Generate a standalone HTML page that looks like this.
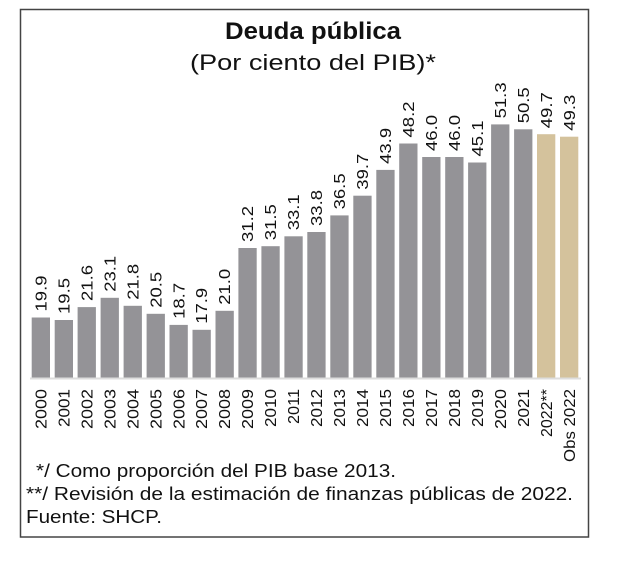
<!DOCTYPE html>
<html><head><meta charset="utf-8"><style>
body{margin:0;background:#fff;width:622px;height:567px;overflow:hidden}
svg{display:block;font-family:"Liberation Sans",sans-serif}
.b{fill:#949397}.t{fill:#d4c29c}
.v{font-size:16px;fill:#111}
.y{font-size:16px;fill:#111;text-anchor:end}
</style></head><body>
<svg width="622" height="567" xmlns="http://www.w3.org/2000/svg">
<rect x="20.5" y="9.5" width="568" height="527.5" fill="#fff" stroke="#444" stroke-width="1.5"/>
<text x="313" y="39" font-size="24" font-weight="bold" text-anchor="middle" fill="#111" textLength="176" lengthAdjust="spacingAndGlyphs">Deuda pública</text>
<text x="313" y="70" font-size="22" text-anchor="middle" fill="#111" textLength="246" lengthAdjust="spacingAndGlyphs">(Por ciento del PIB)*</text>

<rect class="b" x="31.7" y="317.5" width="18.3" height="60"/>
<rect class="b" x="54.7" y="320" width="18.3" height="57.5"/>
<rect class="b" x="77.6" y="307.1" width="18.3" height="70.4"/>
<rect class="b" x="100.6" y="297.8" width="18.3" height="79.7"/>
<rect class="b" x="123.6" y="305.8" width="18.3" height="71.7"/>
<rect class="b" x="146.6" y="313.8" width="18.3" height="63.7"/>
<rect class="b" x="169.5" y="324.9" width="18.3" height="52.6"/>
<rect class="b" x="192.5" y="329.8" width="18.3" height="47.7"/>
<rect class="b" x="215.5" y="310.8" width="18.3" height="66.7"/>
<rect class="b" x="238.4" y="248" width="18.3" height="129.5"/>
<rect class="b" x="261.4" y="246.2" width="18.3" height="131.3"/>
<rect class="b" x="284.4" y="236.3" width="18.3" height="141.2"/>
<rect class="b" x="307.3" y="232" width="18.3" height="145.5"/>
<rect class="b" x="330.3" y="215.4" width="18.3" height="162.1"/>
<rect class="b" x="353.3" y="195.7" width="18.3" height="181.8"/>
<rect class="b" x="376.3" y="169.9" width="18.3" height="207.6"/>
<rect class="b" x="399.2" y="143.5" width="18.3" height="234"/>
<rect class="b" x="422.2" y="157" width="18.3" height="220.5"/>
<rect class="b" x="445.2" y="157" width="18.3" height="220.5"/>
<rect class="b" x="468.1" y="162.5" width="18.3" height="215"/>
<rect class="b" x="491.1" y="124.4" width="18.3" height="253.1"/>
<rect class="b" x="514.1" y="129.3" width="18.3" height="248.2"/>
<rect class="t" x="537.0" y="134.2" width="18.3" height="243.3"/>
<rect class="t" x="560.0" y="136.7" width="18.3" height="240.8"/>
<line x1="30" y1="378.5" x2="581" y2="378.5" stroke="#ddd" stroke-width="2"/>

<g class="v">
<text transform="translate(46.5,311.5) rotate(-90)" textLength="36" lengthAdjust="spacingAndGlyphs">19.9</text>
<text transform="translate(69.4,314) rotate(-90)" textLength="36" lengthAdjust="spacingAndGlyphs">19.5</text>
<text transform="translate(92.4,301) rotate(-90)" textLength="36" lengthAdjust="spacingAndGlyphs">21.6</text>
<text transform="translate(115.4,291.8) rotate(-90)" textLength="36" lengthAdjust="spacingAndGlyphs">23.1</text>
<text transform="translate(138.3,299.8) rotate(-90)" textLength="36" lengthAdjust="spacingAndGlyphs">21.8</text>
<text transform="translate(161.3,307.8) rotate(-90)" textLength="36" lengthAdjust="spacingAndGlyphs">20.5</text>
<text transform="translate(184.3,318.9) rotate(-90)" textLength="36" lengthAdjust="spacingAndGlyphs">18.7</text>
<text transform="translate(207.2,323.8) rotate(-90)" textLength="36" lengthAdjust="spacingAndGlyphs">17.9</text>
<text transform="translate(230.2,304.8) rotate(-90)" textLength="36" lengthAdjust="spacingAndGlyphs">21.0</text>
<text transform="translate(253.2,242) rotate(-90)" textLength="36" lengthAdjust="spacingAndGlyphs">31.2</text>
<text transform="translate(276.2,240.2) rotate(-90)" textLength="36" lengthAdjust="spacingAndGlyphs">31.5</text>
<text transform="translate(299.1,230.3) rotate(-90)" textLength="36" lengthAdjust="spacingAndGlyphs">33.1</text>
<text transform="translate(322.1,226) rotate(-90)" textLength="36" lengthAdjust="spacingAndGlyphs">33.8</text>
<text transform="translate(345.1,209.4) rotate(-90)" textLength="36" lengthAdjust="spacingAndGlyphs">36.5</text>
<text transform="translate(368,189.7) rotate(-90)" textLength="36" lengthAdjust="spacingAndGlyphs">39.7</text>
<text transform="translate(391,163.9) rotate(-90)" textLength="36" lengthAdjust="spacingAndGlyphs">43.9</text>
<text transform="translate(414,137.5) rotate(-90)" textLength="36" lengthAdjust="spacingAndGlyphs">48.2</text>
<text transform="translate(436.9,151) rotate(-90)" textLength="36" lengthAdjust="spacingAndGlyphs">46.0</text>
<text transform="translate(459.9,151) rotate(-90)" textLength="36" lengthAdjust="spacingAndGlyphs">46.0</text>
<text transform="translate(482.9,156.5) rotate(-90)" textLength="36" lengthAdjust="spacingAndGlyphs">45.1</text>
<text transform="translate(505.9,118.4) rotate(-90)" textLength="36" lengthAdjust="spacingAndGlyphs">51.3</text>
<text transform="translate(528.8,123.3) rotate(-90)" textLength="36" lengthAdjust="spacingAndGlyphs">50.5</text>
<text transform="translate(551.8,128.2) rotate(-90)" textLength="36" lengthAdjust="spacingAndGlyphs">49.7</text>
<text transform="translate(574.8,130.7) rotate(-90)" textLength="36" lengthAdjust="spacingAndGlyphs">49.3</text>
</g>

<g class="y">
<text transform="translate(46.5,389) rotate(-90)" textLength="40" lengthAdjust="spacingAndGlyphs">2000</text>
<text transform="translate(69.4,389) rotate(-90)" textLength="38" lengthAdjust="spacingAndGlyphs">2001</text>
<text transform="translate(92.4,389) rotate(-90)" textLength="40" lengthAdjust="spacingAndGlyphs">2002</text>
<text transform="translate(115.4,389) rotate(-90)" textLength="40" lengthAdjust="spacingAndGlyphs">2003</text>
<text transform="translate(138.3,389) rotate(-90)" textLength="40" lengthAdjust="spacingAndGlyphs">2004</text>
<text transform="translate(161.3,389) rotate(-90)" textLength="40" lengthAdjust="spacingAndGlyphs">2005</text>
<text transform="translate(184.3,389) rotate(-90)" textLength="40" lengthAdjust="spacingAndGlyphs">2006</text>
<text transform="translate(207.2,389) rotate(-90)" textLength="40" lengthAdjust="spacingAndGlyphs">2007</text>
<text transform="translate(230.2,389) rotate(-90)" textLength="40" lengthAdjust="spacingAndGlyphs">2008</text>
<text transform="translate(253.2,389) rotate(-90)" textLength="40" lengthAdjust="spacingAndGlyphs">2009</text>
<text transform="translate(276.2,389) rotate(-90)" textLength="38" lengthAdjust="spacingAndGlyphs">2010</text>
<text transform="translate(299.1,389) rotate(-90)" textLength="35" lengthAdjust="spacingAndGlyphs">2011</text>
<text transform="translate(322.1,389) rotate(-90)" textLength="38" lengthAdjust="spacingAndGlyphs">2012</text>
<text transform="translate(345.1,389) rotate(-90)" textLength="38" lengthAdjust="spacingAndGlyphs">2013</text>
<text transform="translate(368,389) rotate(-90)" textLength="38" lengthAdjust="spacingAndGlyphs">2014</text>
<text transform="translate(391,389) rotate(-90)" textLength="38" lengthAdjust="spacingAndGlyphs">2015</text>
<text transform="translate(414,389) rotate(-90)" textLength="38" lengthAdjust="spacingAndGlyphs">2016</text>
<text transform="translate(436.9,389) rotate(-90)" textLength="38" lengthAdjust="spacingAndGlyphs">2017</text>
<text transform="translate(459.9,389) rotate(-90)" textLength="38" lengthAdjust="spacingAndGlyphs">2018</text>
<text transform="translate(482.9,389) rotate(-90)" textLength="38" lengthAdjust="spacingAndGlyphs">2019</text>
<text transform="translate(505.9,389) rotate(-90)" textLength="40" lengthAdjust="spacingAndGlyphs">2020</text>
<text transform="translate(528.8,389) rotate(-90)" textLength="38" lengthAdjust="spacingAndGlyphs">2021</text>
<text transform="translate(551.8,389) rotate(-90)" textLength="48" lengthAdjust="spacingAndGlyphs">2022**</text>
<text transform="translate(574.8,389) rotate(-90)" textLength="73" lengthAdjust="spacingAndGlyphs">Obs 2022</text>
</g>

<text x="36" y="477" font-size="18" fill="#111" textLength="360" lengthAdjust="spacingAndGlyphs">*/ Como proporción del PIB base 2013.</text>
<text x="26" y="500" font-size="18" fill="#111" textLength="547" lengthAdjust="spacingAndGlyphs">**/ Revisión de la estimación de finanzas públicas de 2022.</text>
<text x="26" y="523" font-size="18" fill="#111" textLength="136" lengthAdjust="spacingAndGlyphs">Fuente: SHCP.</text>
</svg>
</body></html>
